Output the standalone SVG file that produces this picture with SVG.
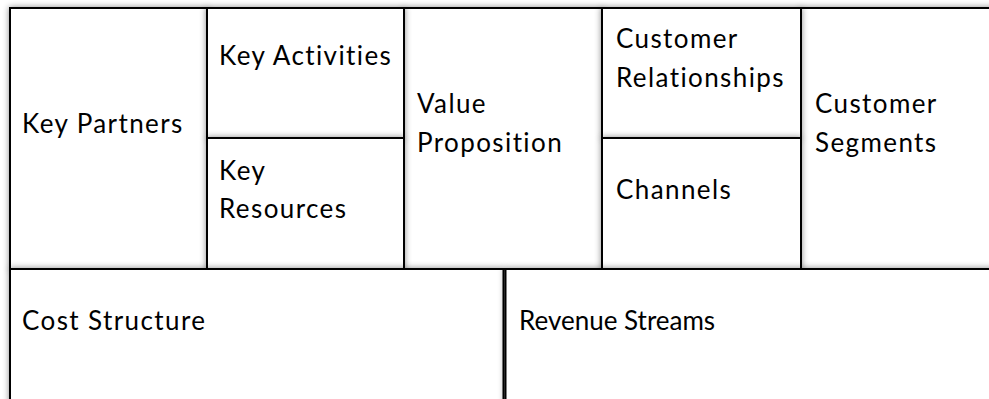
<svg xmlns="http://www.w3.org/2000/svg" width="989" height="399" viewBox="0 0 989 399">
  <defs>
    <filter id="sh" x="-10%" y="-10%" width="120%" height="120%">
      <feDropShadow dx="0" dy="0" stdDeviation="3" flood-color="#000" flood-opacity="0.45"/>
    </filter>
    <style>
      .box { fill: #fff; stroke: #000; stroke-width: 2; filter: url(#sh); }
      .lbl { font-family: Lato, "Liberation Sans", sans-serif; font-size: 26px; letter-spacing: 1.4px; fill: #000; }
      .tight { letter-spacing: 0; }
    </style>
  </defs>
  <rect width="989" height="399" fill="#fff"/>
  <g id="key-partners">
    <rect class="box" x="10" y="8" width="197" height="261"/>
    <text class="lbl" x="22" y="133">Key Partners</text>
  </g>
  <g id="value-proposition">
    <rect class="box" x="404" y="8" width="198" height="261"/>
    <text class="lbl" x="417" y="113">Value</text>
    <text class="lbl" x="417" y="152">Proposition</text>
  </g>
  <g id="customer-segments">
    <rect class="box" x="801" y="8" width="200" height="261"/>
    <text class="lbl" x="815" y="113">Customer</text>
    <text class="lbl" x="815" y="152">Segments</text>
  </g>
  <g id="key-activities">
    <rect class="box" x="207" y="8" width="197" height="130"/>
    <text class="lbl" x="219" y="65">Key Activities</text>
  </g>
  <g id="key-resources">
    <rect class="box" x="207" y="138" width="197" height="131"/>
    <text class="lbl" x="219" y="180">Key</text>
    <text class="lbl" x="219" y="218">Resources</text>
  </g>
  <g id="customer-relationships">
    <rect class="box" x="602" y="8" width="199" height="130"/>
    <text class="lbl" x="616" y="48">Customer</text>
    <text class="lbl" x="616" y="87">Relationships</text>
  </g>
  <g id="channels">
    <rect class="box" x="602" y="138" width="199" height="131"/>
    <text class="lbl" x="616" y="199">Channels</text>
  </g>
  <g id="cost-structure">
    <rect class="box" x="10" y="269" width="493.5" height="150"/>
    <text class="lbl" x="22" y="330">Cost Structure</text>
  </g>
  <g id="revenue-streams">
    <rect class="box" x="505.5" y="269" width="500" height="150"/>
    <text class="lbl tight" x="519" y="330">Revenue Streams</text>
  </g>
  <g id="connectors"/>
</svg>
